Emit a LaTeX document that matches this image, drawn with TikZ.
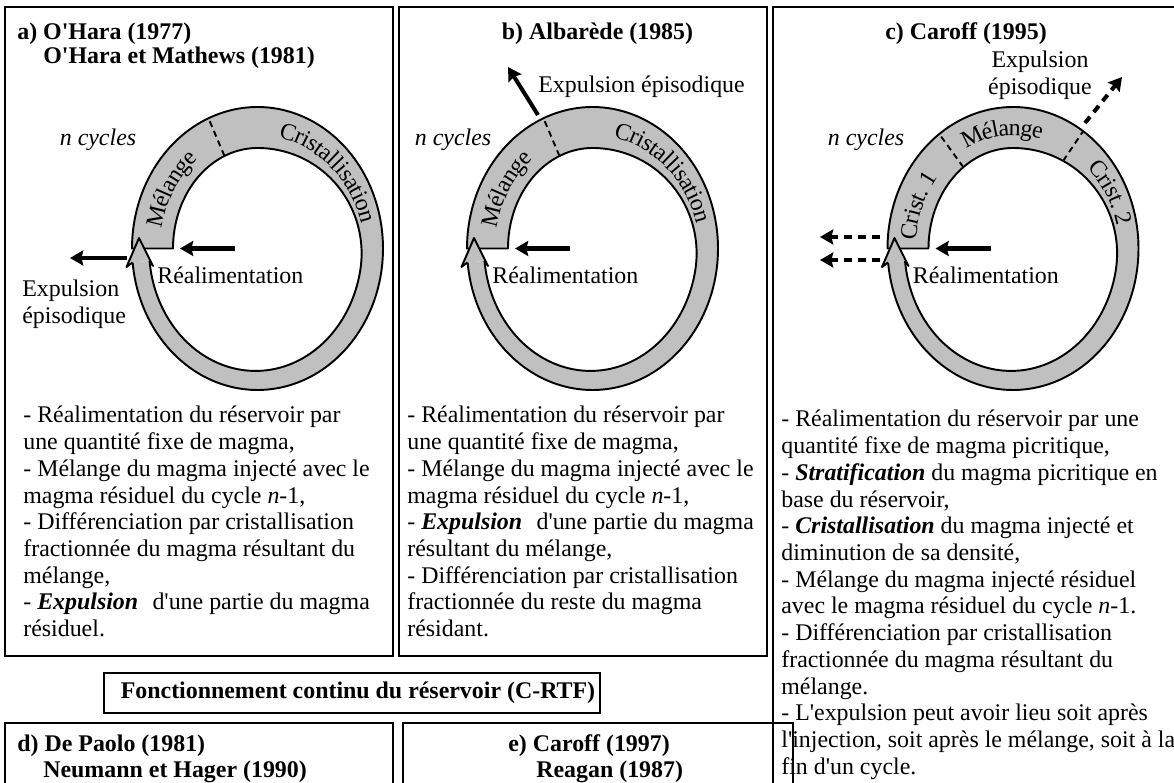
\documentclass[tikz,border=0pt]{standalone}
\usepackage{fontspec}
\setmainfont{Liberation Serif}[Ligatures=TeXOff]
\usetikzlibrary{arrows.meta,decorations.text}
\definecolor{ringgray}{RGB}{192,192,192}
\newcommand{\bodyfont}{\fontsize{13.6}{15.2}\selectfont}
\newcommand{\titlefont}{\fontsize{13.6}{16}\selectfont\bfseries}
\tikzset{
  declare function={
    th(\p)=(\p<270)*41 + and(\p>=270,\p<370)*(41-10*(1-cos((\p-270)/100*180))) + (\p>=370)*(21-2*(1-cos((min(\p,534.3)-370)/164.3*180)));
    ox(\p)=125.5*cos(\p);  oy(\p)=141.5*sin(\p);
    ix(\p)=(125.5-th(\p))*cos(\p);  iy(\p)=(141.5-th(\p))*sin(\p);
    cxx(\p)=(125.5-th(\p)/2)*cos(\p);  cyy(\p)=(141.5-th(\p)/2)*sin(\p);
  }
}
\newcommand{\MagmaRing}{%
  \fill[ringgray] plot[domain=180:534.3,samples=180] ({ox(\x)},{oy(\x)})
     -- plot[domain=534.3:180,samples=180] ({ix(\x)},{iy(\x)}) -- cycle;
  \draw[ringline] plot[domain=534.3:180,samples=180] ({ox(\x)},{oy(\x)})
     -- plot[domain=180:534.3,samples=180] ({ix(\x)},{iy(\x)});
  \filldraw[ringgray, draw=black, ringline] (-124.9,14.0) -- (-131,18.5) -- (-118.5,-10.5) -- (-104.5,17.5) -- (-108.0,12.4);
}
\newcommand{\RingText}[2]{%
  \pgfmathsetmacro\rtA{#1-55}\pgfmathsetmacro\rtB{#1+55}%
  \path[decorate, decoration={text along path, text={|\bodyfont|#2}, text align=center, raise=-4.5pt}]
    plot[domain=\rtA:\rtB,samples=90] ({cxx(\x)},{cyy(\x)});
}
\newcommand{\RingSep}[1]{%
  \draw[sepdash] ({ix(#1)},{iy(#1)}) -- ({ox(#1)},{oy(#1)});
}
\begin{document}
\begin{tikzpicture}[x=0.02cm,y=-0.02cm,
  boxline/.style={line width=1.1pt},
  thinbox/.style={line width=0.75pt},
  ringline/.style={line width=1.1pt, line join=round},
  sepdash/.style={line width=1.1pt, dash pattern=on 3.5pt off 2.5pt},
  blackarrow/.style={line width=2.3pt, -{Stealth[length=7.5pt,width=8.5pt,inset=1pt]}},
  dasharrow/.style={line width=2.3pt, dash pattern=on 4.5pt off 3.5pt, -{Stealth[length=7.5pt,width=8.5pt,inset=1pt]}},
  lbl/.style={inner sep=0pt, font=\bodyfont},
  ttl/.style={inner sep=0pt, font=\titlefont}]
\useasboundingbox (0,0) rectangle (1174,783);
\clip (0,0) rectangle (1174,783);

% panel frames
\draw[boxline] (5,7) rectangle (393,656);
\draw[boxline] (399,7) rectangle (767,656);
\draw[thinbox] (773,800) -- (773,7) -- (1190,7);
\draw[boxline] (5,800) -- (5,723) -- (393,723) -- (393,800);
\draw[thinbox] (403,800) -- (403,723) -- (793,723) -- (793,800);
\node[draw, boxline, minimum width=9.92cm, minimum height=0.8cm, inner sep=0pt] (crtfbox) at (352,693) {};
\node[ttl] (crtf) at (358,693) {Fonctionnement continu du réservoir (C-RTF)};

% ---------- panel a ----------
\node[ttl, anchor=base west] (ta1) at (17,40) {a) O'Hara (1977)};
\node[ttl, anchor=base west] (ta2) at (43,64) {O'Hara et Mathews (1981)};
\node[lbl, anchor=base] (ncya) at (98,146) {\textit{n cycles}};
\begin{scope}[shift={(257.5,248.5)}]
  \MagmaRing
  \RingSep{247}
  \RingText{213}{Mélange}
  \RingText{313}{Cristallisation}
  \coordinate (ra1) at (-22.5,0); \coordinate (ra2) at (-77.5,0);
  \draw[blackarrow] (ra1) -- (ra2);
  \coordinate (ea1) at (-130.5,9.5); \coordinate (ea2) at (-187.5,9.5);
  \draw[blackarrow] (ea1) -- (ea2);
  \node[lbl, anchor=base west] (rea) at (-100.5,35.5) {Réalimentation};
\end{scope}
\node[lbl, anchor=base west] (expa) at (22,297) {\begin{tabular}[t]{@{}l@{}}Expulsion\\épisodique\end{tabular}};
\node[lbl, anchor=base west] (texta) at (23,423) {\begin{tabular}[t]{@{}l@{}}
- Réalimentation du réservoir par\\
une quantité fixe de magma,\\
- Mélange du magma injecté avec le\\
magma résiduel du cycle \textit{n}-1,\\
- Différenciation par cristallisation\\
fractionnée du magma résultant du\\
mélange,\\
- \textbf{\textit{Expulsion}}\hspace{0.35em} d'une partie du magma\\
résiduel.
\end{tabular}};

% ---------- panel b ----------
\node[ttl, anchor=base] (tb) at (597.5,40) {b) Albarède (1985)};
\node[lbl, anchor=base] (ncyb) at (453,146) {\textit{n cycles}};
\begin{scope}[shift={(592.5,248.5)}]
  \MagmaRing
  \RingSep{247}
  \RingText{213}{Mélange}
  \RingText{313}{Cristallisation}
  \coordinate (rb1) at (-22.5,0); \coordinate (rb2) at (-77.5,0);
  \draw[blackarrow] (rb1) -- (rb2);
  \coordinate (eb1) at (-54.5,-133.5); \coordinate (eb2) at (-84.5,-181.5);
  \draw[blackarrow] (eb1) -- (eb2);
  \node[lbl, anchor=base west] (reb) at (-100.5,35.5) {Réalimentation};
\end{scope}
\node[lbl, anchor=base west] (expb) at (538,93) {Expulsion épisodique};
\node[lbl, anchor=base west] (textb) at (407,423) {\begin{tabular}[t]{@{}l@{}}
- Réalimentation du réservoir par\\
une quantité fixe de magma,\\
- Mélange du magma injecté avec le\\
magma résiduel du cycle \textit{n}-1,\\
- \textbf{\textit{Expulsion}}\hspace{0.35em} d'une partie du magma\\
résultant du mélange,\\
- Différenciation par cristallisation\\
fractionnée du reste du magma\\
résidant.
\end{tabular}};

% ---------- panel c ----------
\node[ttl, anchor=base] (tc) at (966,40) {c) Caroff (1995)};
\node[lbl, anchor=base] (expc) at (1040,68) {\begin{tabular}[t]{@{}c@{}}Expulsion\\épisodique\end{tabular}};
\node[lbl, anchor=base] (ncyc) at (866,146) {\textit{n cycles}};
\begin{scope}[shift={(1013,248.5)}]
  \MagmaRing
  \RingSep{234}
  \RingSep{304}
  \RingText{203}{Crist. 1}
  \RingText{264}{Mélange}
  \RingText{330}{Crist. 2}
  \coordinate (rc1) at (-22.5,0); \coordinate (rc2) at (-77.5,0);
  \draw[blackarrow] (rc1) -- (rc2);
  \coordinate (ec1) at (72,-125.5); \coordinate (ec2) at (109,-171.5);
  \draw[dasharrow] (ec1) -- (ec2);
  \coordinate (ec3) at (-133,-11.5); \coordinate (ec4) at (-193,-11.5);
  \draw[dasharrow] (ec3) -- (ec4);
  \coordinate (ec5) at (-133,11.5); \coordinate (ec6) at (-193,11.5);
  \draw[dasharrow] (ec5) -- (ec6);
  \node[lbl, anchor=base west] (rec) at (-100.5,35.5) {Réalimentation};
\end{scope}
\node[lbl, anchor=base west] (textc) at (781,427) {\begin{tabular}[t]{@{}l@{}}
- Réalimentation du réservoir par une\\
quantité fixe de magma picritique,\\
- \textbf{\textit{Stratification}} du magma picritique en\\
base du réservoir,\\
- \textbf{\textit{Cristallisation}} du magma injecté et\\
diminution de sa densité,\\
- Mélange du magma injecté résiduel\\
avec le magma résiduel du cycle \textit{n}-1.\\
- Différenciation par cristallisation\\
fractionnée du magma résultant du\\
mélange.\\
- L'expulsion peut avoir lieu soit après\\
l'injection, soit après le mélange, soit à la\\
fin d'un cycle.
\end{tabular}};

% ---------- panels d, e ----------
\node[ttl, anchor=base west] (td1) at (17,752) {d) De Paolo (1981)};
\node[ttl, anchor=base west] (td2) at (43,778) {Neumann et Hager (1990)};
\node[ttl, anchor=base west] (te1) at (508,752) {e) Caroff (1997)};
\node[ttl, anchor=base west] (te2) at (536,778) {Reagan (1987)};
\end{tikzpicture}
\end{document}
